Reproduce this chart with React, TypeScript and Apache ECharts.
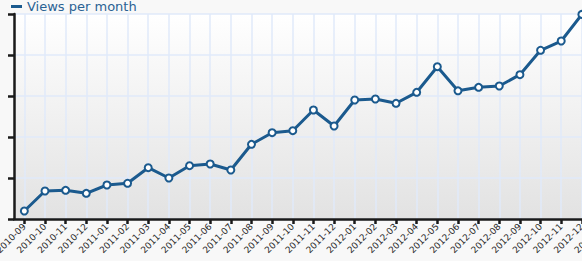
import React, { useEffect, useRef } from "react";
import * as echarts from "echarts";

const months: string[] = [
  "2010-09", "2010-10", "2010-11", "2010-12",
  "2011-01", "2011-02", "2011-03", "2011-04", "2011-05", "2011-06",
  "2011-07", "2011-08", "2011-09", "2011-10", "2011-11", "2011-12",
  "2012-01", "2012-02", "2012-03", "2012-04", "2012-05", "2012-06",
  "2012-07", "2012-08", "2012-09", "2012-10", "2012-11", "2012-12",
  "2013-01",
];

const views: (number | null)[] = [
  195, 683, 700, 627, 829, 871, 1251, 1000, 1300, 1341,
  1195, 1822, 2105, 2154, 2659, 2268, 2902, 2927, 2822, 3090,
  3715, 3127, 3212, 3244, 3520, 4115, 4341, 4990, null,
];

const seriesName = "Views per month";
const BLUE = "#1b5a8e";
const AXIS = "#1a1a1a";
const GRIDLINE = "#e0eafa";

export default function App() {
  const ref = useRef<HTMLDivElement>(null);

  useEffect(() => {
    if (!ref.current) return;
    const chart = echarts.init(ref.current, undefined, { renderer: "svg" });
    const band = 20.65;
    const left = 14;
    chart.setOption({
      animation: false,
      backgroundColor: "#f8f8f8",
      textStyle: { fontFamily: "DejaVu Sans" },
      legend: {
        left: 11,
        top: 0,
        padding: 0,
        icon: "rect",
        itemWidth: 11,
        itemHeight: 3,
        data: [{ name: seriesName, itemStyle: { color: BLUE, borderWidth: 0 } }],
        textStyle: { color: "#2a6294", fontSize: 13, fontFamily: "DejaVu Sans" },
      },
      grid: [
        {
          left: left,
          top: 14,
          bottom: 42,
          width: band * months.length,
          containLabel: false,
          outerBoundsMode: "none",
          show: true,
          borderWidth: 0,
          backgroundColor: new echarts.graphic.LinearGradient(0, 0, 0, 1, [
            { offset: 0, color: "#ffffff" },
            { offset: 1, color: "#e2e2e2" },
          ]),
        },
        {
          left: left + band / 2,
          top: 14,
          bottom: 42,
          width: band * (months.length - 1),
          containLabel: false,
          outerBoundsMode: "none",
          show: false,
        },
      ],
      xAxis: [
        {
          type: "category",
          gridIndex: 0,
          data: months,
          boundaryGap: true,
          axisLine: { show: true, lineStyle: { color: AXIS, width: 2.5 } },
          axisTick: {
            show: true,
            alignWithLabel: true,
            interval: 0,
            length: 5,
            lineStyle: { color: AXIS, width: 2.5 },
          },
          splitLine: { show: false },
          axisLabel: {
            interval: 0,
            rotate: 45,
            margin: 6,
            fontSize: 9,
            color: "#2a2a2a",
            fontFamily: "DejaVu Sans",
          },
        },
        {
          type: "value",
          gridIndex: 1,
          min: 0,
          max: months.length - 1,
          interval: 1,
          axisLine: { show: false },
          axisTick: { show: false },
          axisLabel: { show: false },
          splitLine: { show: true, lineStyle: { color: GRIDLINE, width: 1.5 } },
        },
      ],
      yAxis: [
        {
          type: "value",
          gridIndex: 0,
          min: 0,
          max: 5000,
          interval: 1000,
          axisLine: { show: true, lineStyle: { color: AXIS, width: 2.5 } },
          axisTick: { show: true, length: 6, lineStyle: { color: AXIS, width: 2.5 } },
          axisLabel: { show: false },
          splitLine: { show: true, lineStyle: { color: GRIDLINE, width: 1.5 } },
        },
        {
          type: "value",
          gridIndex: 1,
          min: 0,
          max: 5000,
          show: false,
          splitLine: { show: false },
        },
      ],
      series: [
        {
          name: seriesName,
          type: "line",
          xAxisIndex: 0,
          yAxisIndex: 0,
          data: views,
          symbol: "circle",
          symbolSize: 7,
          color: BLUE,
          lineStyle: { color: BLUE, width: 3 },
          itemStyle: { color: "#ffffff", borderColor: BLUE, borderWidth: 2 },
        },
      ],
    });
    return () => chart.dispose();
  }, []);

  return (
    <div
      ref={ref}
      style={{ position: "absolute", left: 0, top: 0, width: 582, height: 261 }}
    />
  );
}
